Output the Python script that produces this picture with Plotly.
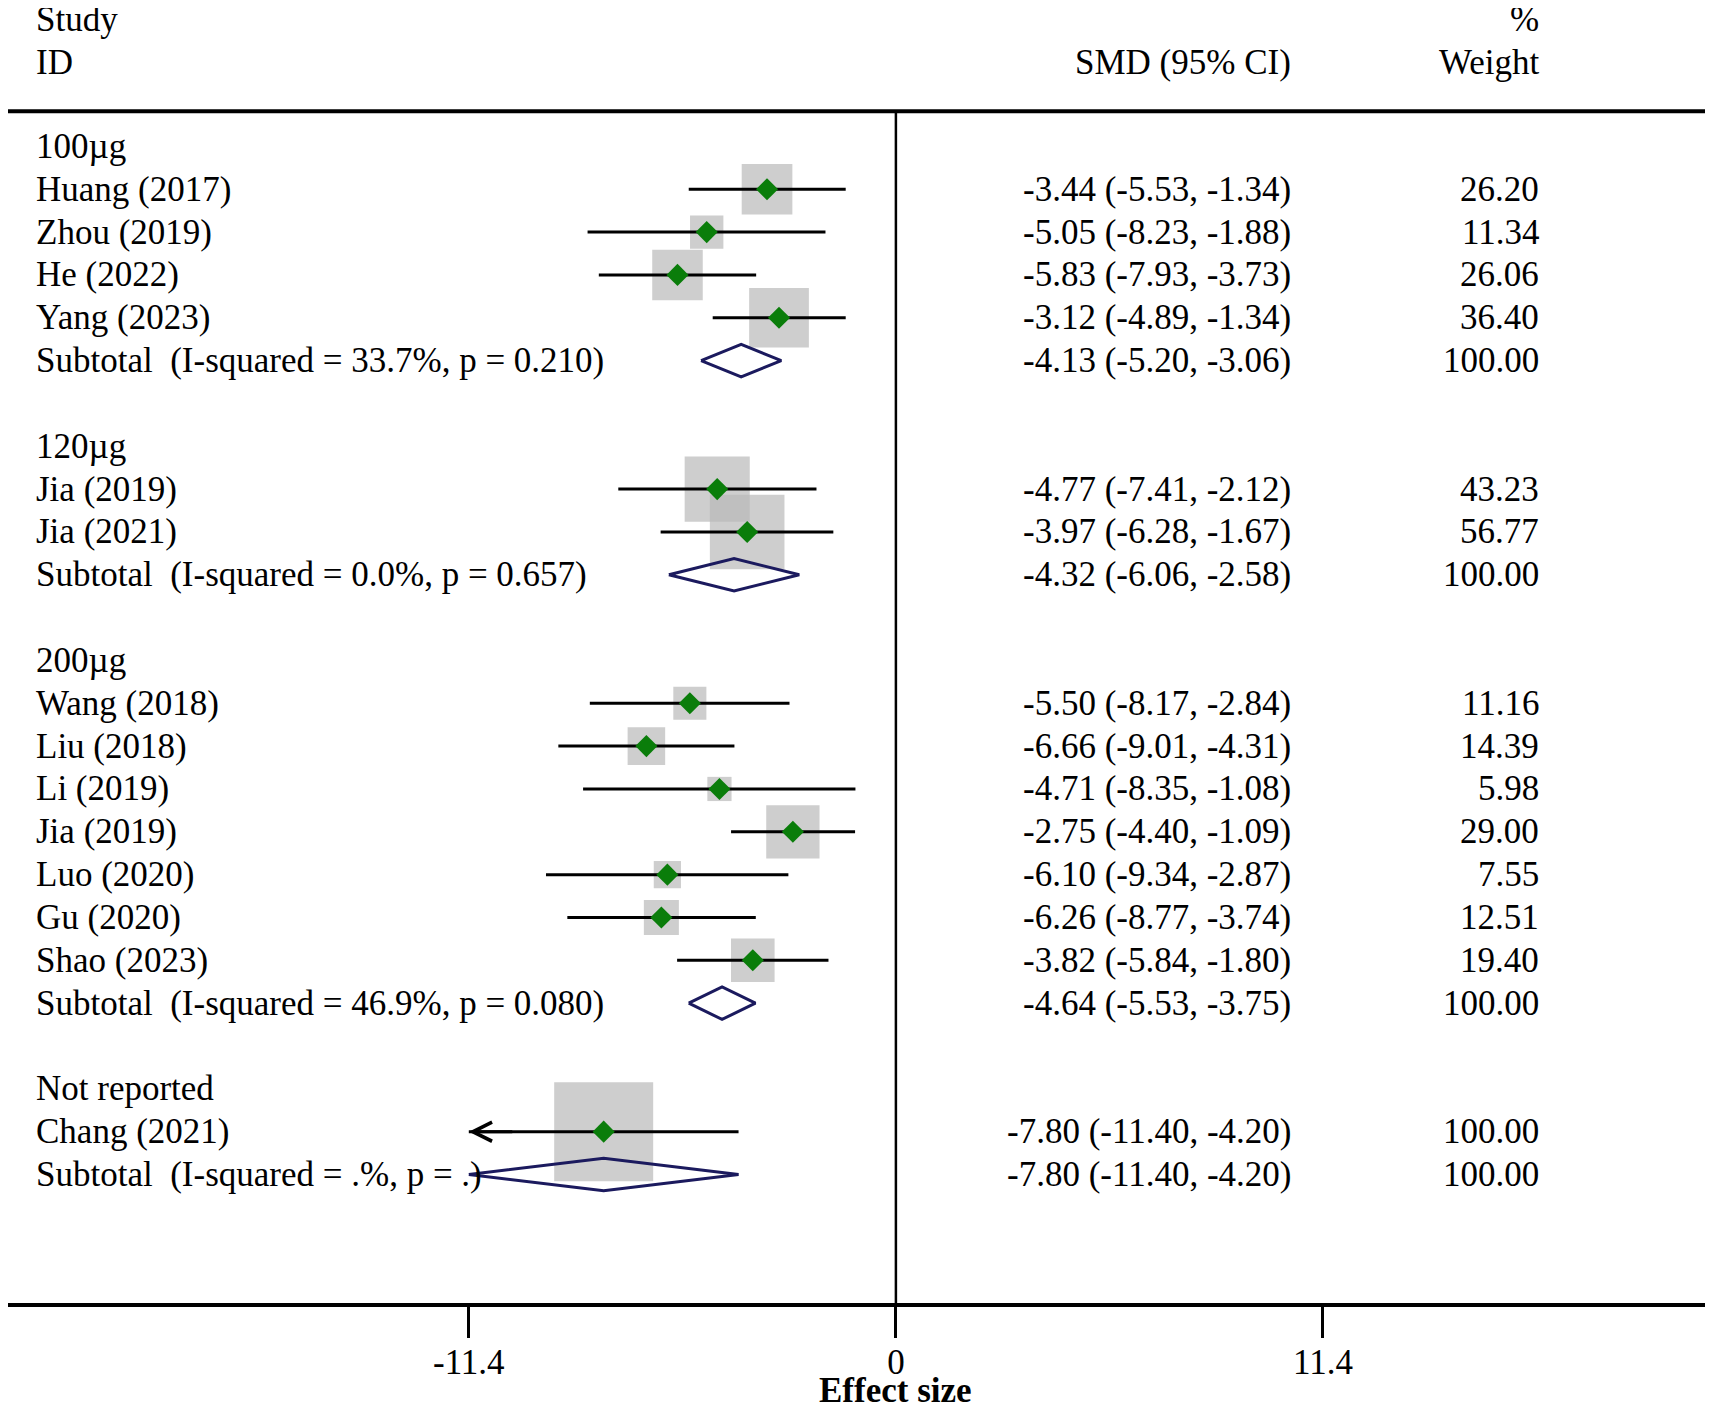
import math
import plotly.graph_objects as go

# subgroup forest plot data (SMD, 95% CI, % weight within subgroup)
groups = ["100µg", "120µg", "200µg", "Not reported"]
study_group = [0, 0, 0, 0, 1, 1, 2, 2, 2, 2, 2, 2, 2, 3]
studies = ["Huang (2017)", "Zhou (2019)", "He (2022)", "Yang (2023)",
           "Jia (2019)", "Jia (2021)",
           "Wang (2018)", "Liu (2018)", "Li (2019)", "Jia (2019)",
           "Luo (2020)", "Gu (2020)", "Shao (2023)",
           "Chang (2021)"]
smd = [-3.44, -5.05, -5.83, -3.12, -4.77, -3.97, -5.50, -6.66, -4.71, -2.75, -6.10, -6.26, -3.82, -7.80]
ci_low = [-5.53, -8.23, -7.93, -4.89, -7.41, -6.28, -8.17, -9.01, -8.35, -4.40, -9.34, -8.77, -5.84, -11.40]
ci_high = [-1.34, -1.88, -3.73, -1.34, -2.12, -1.67, -2.84, -4.31, -1.08, -1.09, -2.87, -3.74, -1.80, -4.20]
weights = [26.20, 11.34, 26.06, 36.40, 43.23, 56.77, 11.16, 14.39, 5.98, 29.00, 7.55, 12.51, 19.40, 100.00]

sub_i2 = ["33.7%", "0.0%", "46.9%", ".%"]
sub_p = ["0.210", "0.657", "0.080", "."]
sub_smd = [-4.13, -4.32, -4.64, -7.80]
sub_low = [-5.20, -6.06, -5.53, -11.40]
sub_high = [-3.06, -2.58, -3.75, -4.20]
sub_weight = [100.00, 100.00, 100.00, 100.00]

tick_vals = [-11.4, 0, 11.4]
tick_text = ["-11.4", "0", "11.4"]

FONT = "Liberation Serif"
FS = 35
BOX = "#b9b9b9"
GREEN = "#0a7d0a"
NAVY = "#1b1a5e"

# column positions (x data units)
X_MIN, X_MAX = -23.70, 21.73
X_LABEL = -23.01
X_SMD = 10.60
X_WT = 17.22
Y_TOP, Y_AXIS = -3.231, 27

# work out the row of every line
group_rows, study_rows, sub_rows = [], [], []
row = 0
for g in range(len(groups)):
    group_rows.append(row)
    row += 1
    for i, sg in enumerate(study_group):
        if sg == g:
            study_rows.append(row)
            row += 1
    sub_rows.append(row)
    row += 2

fig = go.Figure()

# weight boxes
fig.add_trace(go.Scatter(
    x=smd, y=study_rows, mode="markers",
    marker=dict(symbol="square", size=[9.9 * math.sqrt(w) for w in weights],
                color=BOX, line=dict(width=0)),
    hoverinfo="skip", showlegend=False
))

# confidence interval lines
ci_x, ci_y = [], []
for lo, hi, r in zip(ci_low, ci_high, study_rows):
    ci_x += [max(lo, tick_vals[0]), hi, None]
    ci_y += [r, r, None]
fig.add_trace(go.Scatter(
    x=ci_x, y=ci_y, mode="lines", line=dict(color="black", width=3),
    hoverinfo="skip", showlegend=False
))

# subtotal diamonds
h = 0.38
d_x, d_y = [], []
for e, lo, hi, r in zip(sub_smd, sub_low, sub_high, sub_rows):
    d_x += [lo, e, hi, e, lo, None]
    d_y += [r, r - h, r, r + h, r, None]
fig.add_trace(go.Scatter(
    x=d_x, y=d_y, mode="lines", line=dict(color=NAVY, width=3),
    hoverinfo="skip", showlegend=False
))

# point estimates
fig.add_trace(go.Scatter(
    x=smd, y=study_rows, mode="markers",
    marker=dict(symbol="diamond", size=17, color=GREEN, line=dict(width=0)),
    hoverinfo="skip", showlegend=False
))

ann = []


def txt(x, y, s, anchor="left", bold=False):
    ann.append(dict(x=x, y=y, xref="x", yref="y", text=s, showarrow=False,
                    xanchor=anchor, yanchor="middle",
                    font=dict(family=FONT, size=FS, color="black",
                              weight="bold" if bold else "normal")))


# header
txt(X_LABEL, -2.96, "Study")
txt(X_LABEL, -1.96, "ID")
txt(X_WT, -2.96, "%", "right")
txt(X_WT, -1.96, "Weight", "right")
txt(X_SMD, -1.96, "SMD (95% CI)", "right")

for g, r in zip(groups, group_rows):
    txt(X_LABEL, r, g)

for name, e, lo, hi, w, r in zip(studies, smd, ci_low, ci_high, weights, study_rows):
    txt(X_LABEL, r, name)
    txt(X_SMD, r, f"{e:.2f} ({lo:.2f}, {hi:.2f})", "right")
    txt(X_WT, r, f"{w:.2f}", "right")
    if lo <= tick_vals[0]:
        # CI runs past the axis: open arrow at the clipped end
        ann.append(dict(x=tick_vals[0], y=r, ax=tick_vals[0] + 1.2, ay=r,
                        xref="x", yref="y", axref="x", ayref="y", text="",
                        showarrow=True, arrowhead=5, arrowsize=1.25,
                        arrowwidth=3, arrowcolor="black"))

for i2, p, e, lo, hi, w, r in zip(sub_i2, sub_p, sub_smd, sub_low, sub_high, sub_weight, sub_rows):
    txt(X_LABEL, r, f"Subtotal \u00a0(I-squared = {i2}, p = {p})")
    txt(X_SMD, r, f"{e:.2f} ({lo:.2f}, {hi:.2f})", "right")
    txt(X_WT, r, f"{w:.2f}", "right")

# x axis title
ann.append(dict(x=0, y=0, xref="x", yref="paper", text="Effect size",
                showarrow=False, xanchor="center", yanchor="middle", yshift=-87,
                font=dict(family=FONT, size=FS, color="black", weight="bold")))

shapes = [
    # header rule
    dict(type="line", xref="paper", yref="y", x0=0, x1=1, y0=-0.82, y1=-0.82,
         line=dict(color="black", width=4)),
    # line of no effect
    dict(type="line", xref="x", yref="y", x0=0, x1=0, y0=-0.82, y1=Y_AXIS,
         line=dict(color="black", width=2.5)),
]

fig.update_layout(
    width=1705, height=1395,
    margin=dict(l=0, r=3, t=0, b=100),
    paper_bgcolor="white", plot_bgcolor="white",
    showlegend=False,
    annotations=ann, shapes=shapes,
    xaxis=dict(range=[X_MIN, X_MAX], showgrid=False, zeroline=False,
               showline=True, linecolor="black", linewidth=4,
               ticks="outside", ticklen=31, tickwidth=2.5, tickcolor="black",
               tickvals=tick_vals, ticktext=tick_text, ticklabelstandoff=-6,
               tickfont=dict(family=FONT, size=FS, color="black"),
               fixedrange=True),
    yaxis=dict(range=[Y_AXIS, Y_TOP], visible=False, fixedrange=True),
)

fig.write_html("out.html")
